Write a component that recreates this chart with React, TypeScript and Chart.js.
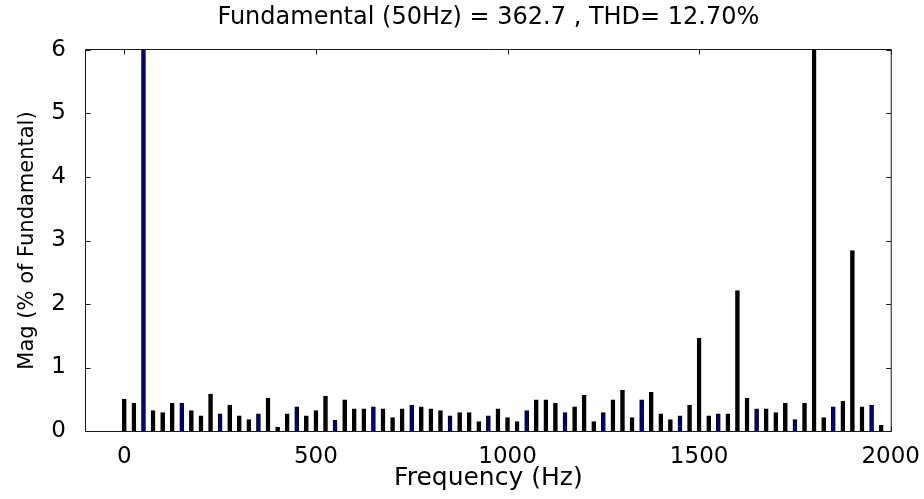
import React, { useEffect, useRef } from 'react';
import { Chart, registerables } from 'chart.js';

Chart.register(...registerables);

// Harmonic spectrum data (Hz, % of fundamental)
const frequencies = [
  0, 25, 50, 75, 100, 125, 150, 175, 200, 225, 250, 275, 300, 325, 350, 375, 400, 425, 450, 475,
  500, 525, 550, 575, 600, 625, 650, 675, 700, 725, 750, 775, 800, 825, 850, 875, 900, 925, 950, 975,
  1000, 1025, 1050, 1075, 1100, 1125, 1150, 1175, 1200, 1225, 1250, 1275, 1300, 1325, 1350, 1375, 1400, 1425, 1450, 1475,
  1500, 1525, 1550, 1575, 1600, 1625, 1650, 1675, 1700, 1725, 1750, 1775, 1800, 1825, 1850, 1875, 1900, 1925, 1950, 1975,
];

const magnitudes = [
  0.50, 0.44, 100, 0.32, 0.29, 0.44, 0.44, 0.32, 0.24, 0.58, 0.27, 0.41, 0.24, 0.18, 0.27, 0.52, 0.06, 0.27, 0.38, 0.24,
  0.32, 0.55, 0.17, 0.49, 0.35, 0.35, 0.38, 0.35, 0.21, 0.35, 0.41, 0.38, 0.35, 0.32, 0.24, 0.29, 0.29, 0.15, 0.24, 0.35,
  0.21, 0.15, 0.32, 0.49, 0.49, 0.44, 0.29, 0.38, 0.56, 0.15, 0.29, 0.49, 0.64, 0.21, 0.49, 0.61, 0.27, 0.18, 0.24, 0.41,
  1.46, 0.24, 0.27, 0.27, 2.21, 0.52, 0.35, 0.35, 0.29, 0.44, 0.18, 0.44, 8.0, 0.21, 0.38, 0.47, 2.84, 0.38, 0.41, 0.09,
];

const xTicks = [0, 500, 1000, 1500, 2000];
const yTicks = [0, 1, 2, 3, 4, 5, 6];

const titleText = 'Fundamental (50Hz) = 362.7 , THD= 12.70%';
const xLabel = 'Frequency (Hz)';
const yLabel = 'Mag (% of Fundamental)';
const fundamentalHz = 50;

const FONT = "'DejaVu Sans', 'Liberation Sans', Arial, sans-serif";

const boxPlugin = {
  id: 'matlabBox',
  afterDatasetsDraw(chart: any) {
    const { ctx, chartArea, scales } = chart;
    const { left, right, top, bottom } = chartArea;
    const L = left - 0.5;
    const R = right + 0.5;
    const T = top - 0.5;
    const B = bottom + 0.5;
    const len = 5;
    ctx.save();
    ctx.strokeStyle = '#1a1a1a';
    ctx.lineWidth = 1;
    ctx.beginPath();
    ctx.rect(L, T, R - L, B - T);
    for (const v of xTicks) {
      const px = Math.round(scales.x.getPixelForValue(v)) + 0.5;
      ctx.moveTo(px, B);
      ctx.lineTo(px, B - len);
      ctx.moveTo(px, T);
      ctx.lineTo(px, T + len);
    }
    for (const v of yTicks) {
      const py = Math.round(scales.y.getPixelForValue(v)) + 0.5;
      ctx.moveTo(L, py);
      ctx.lineTo(L + len, py);
      ctx.moveTo(R, py);
      ctx.lineTo(R - len, py);
    }
    ctx.stroke();
    ctx.restore();
  },
};

export default function App() {
  const canvasRef = useRef<HTMLCanvasElement | null>(null);

  useEffect(() => {
    document.body.style.margin = '0';
    document.body.style.background = '#ffffff';
    const canvas = canvasRef.current;
    if (!canvas) return;

    const data = frequencies.map((f, i) => ({ x: f, y: magnitudes[i] }));
    const fills = frequencies.map((f) => (f % (2 * fundamentalHz) === fundamentalHz ? '#000080' : '#000000'));

    const chart = new Chart(canvas, {
      type: 'bar',
      data: {
        datasets: [
          {
            data,
            backgroundColor: fills,
            borderColor: '#000000',
            borderWidth: 1,
            barThickness: 4,
          },
        ],
      },
      options: {
        responsive: false,
        animation: false,
        layout: { padding: { left: 0, right: 33, top: 0, bottom: 0 } },
        plugins: {
          legend: { display: false },
          tooltip: { enabled: false },
          title: {
            display: true,
            fullSize: false,
            text: titleText,
            color: '#000000',
            font: { family: FONT, size: 24, weight: 'normal' },
            padding: { top: 3, bottom: 18.2 },
          },
        },
        scales: {
          x: {
            type: 'linear',
            min: -100,
            max: 2000,
            offset: false,
            grid: { display: false, offset: false },
            border: { display: false },
            afterFit: (scale: any) => {
              scale.height = 68;
            },
            afterBuildTicks: (scale: any) => {
              scale.ticks = xTicks.map((v) => ({ value: v }));
            },
            ticks: {
              color: '#000000',
              padding: 4,
              maxRotation: 0,
              autoSkip: false,
              font: { family: FONT, size: 23 },
              callback: (v: any) => String(v),
            },
            title: {
              display: true,
              text: xLabel,
              color: '#000000',
              font: { family: FONT, size: 25 },
              padding: { top: 0, bottom: 6 },
            },
          },
          y: {
            min: 0,
            max: 6,
            grid: { display: false },
            border: { display: false },
            afterFit: (scale: any) => {
              scale.width = 86;
            },
            afterBuildTicks: (scale: any) => {
              scale.ticks = yTicks.map((v) => ({ value: v }));
            },
            ticks: {
              color: '#000000',
              padding: 12,
              font: { family: FONT, size: 23 },
              callback: (v: any) => String(v),
            },
            title: {
              display: true,
              text: yLabel,
              color: '#000000',
              font: { family: FONT, size: 21 },
              padding: { top: 15, bottom: 0 },
            },
          },
        },
      },
      plugins: [boxPlugin],
    });

    return () => chart.destroy();
  }, []);

  return (
    <div style={{ width: 924, height: 499, background: '#ffffff' }}>
      <canvas ref={canvasRef} width={924} height={499} style={{ display: 'block' }} />
    </div>
  );
}
